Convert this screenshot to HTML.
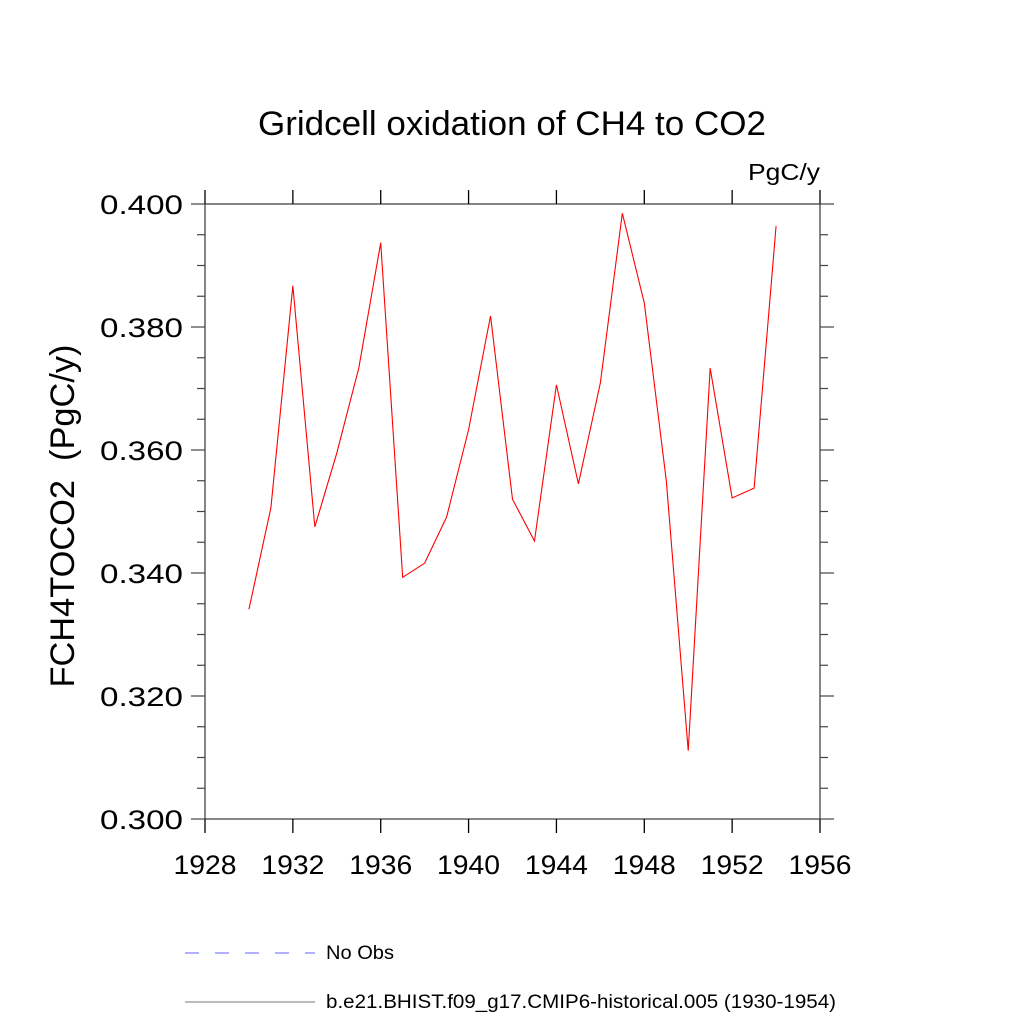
<!DOCTYPE html>
<html><head><meta charset="utf-8"><style>body{margin:0;background:#fff}svg{display:block}text{font-family:"Liberation Sans",sans-serif;fill:#000}</style></head>
<body>
<svg id="chart" width="1024" height="1024" viewBox="0 0 1024 1024" xmlns="http://www.w3.org/2000/svg">
<text x="512" y="135" font-size="34" text-anchor="middle" textLength="508" lengthAdjust="spacingAndGlyphs">Gridcell oxidation of CH4 to CO2</text>
<text x="820" y="180" font-size="23" text-anchor="end" textLength="72" lengthAdjust="spacingAndGlyphs">PgC/y</text>
<text transform="translate(74,516) rotate(-90)" font-size="34" text-anchor="middle" textLength="343" lengthAdjust="spacingAndGlyphs">FCH4TOCO2&#160;&#160;(PgC/y)</text>
<g id="axes"></g>
<g id="series"></g>
<g>
<line x1="185" y1="953" x2="315" y2="953" stroke="#6060ff" stroke-width="1" stroke-dasharray="14,16"/>
<text x="326" y="959" font-size="19" textLength="68" lengthAdjust="spacingAndGlyphs">No Obs</text>
<line x1="185" y1="1002" x2="315" y2="1002" stroke="#777" stroke-width="1"/>
<text x="326" y="1008" font-size="19" textLength="510" lengthAdjust="spacingAndGlyphs">b.e21.BHIST.f09_g17.CMIP6-historical.005 (1930-1954)</text>
</g>
</svg>
<script>
const years = [1930,1931,1932,1933,1934,1935,1936,1937,1938,1939,1940,1941,1942,1943,1944,1945,1946,1947,1948,1949,1950,1951,1952,1953,1954];
const values = [0.3341,0.3506,0.3867,0.3475,0.3595,0.3733,0.3937,0.3393,0.3416,0.3491,0.3633,0.3818,0.3520,0.3452,0.3706,0.3545,0.3709,0.3985,0.3839,0.3551,0.3111,0.3733,0.3522,0.3538,0.3964];
const xTicks = [1928,1932,1936,1940,1944,1948,1952,1956];
const yTicks = [0.300,0.320,0.340,0.360,0.380,0.400];
const yTickLabels = ["0.300","0.320","0.340","0.360","0.380","0.400"];
const X0=205,X1=820,Y0=204,Y1=819;
const xs=v=>X0+(v-1928)/28*(X1-X0);
const ys=v=>Y1-(v-0.3)/0.1*(Y1-Y0);
const NS="http://www.w3.org/2000/svg";
const axes=document.getElementById('axes'), series=document.getElementById('series');
function mk(tag,attrs,parent){const e=document.createElementNS(NS,tag);for(const k in attrs)e.setAttribute(k,attrs[k]);parent.appendChild(e);return e;}
const box=mk('rect',{x:X0,y:Y0,width:X1-X0,height:Y1-Y0,fill:'none',stroke:'#444','stroke-width':1.3},axes);


xTicks.forEach(t=>{const x=xs(t);
 const a=mk('line',{x1:x,y1:Y0,x2:x,y2:Y0-14,stroke:'#000','stroke-width':1.3},axes);
 
 
 const b=mk('line',{x1:x,y1:Y1,x2:x,y2:Y1+14,stroke:'#000','stroke-width':1.3},axes);
 
 
 const tx=mk('text',{x:x,y:Y1+55,'font-size':27,'text-anchor':'middle',textLength:63,lengthAdjust:'spacingAndGlyphs'},axes);tx.textContent=t;
 
 
});
for(let i=0;i<=20;i++){const v=0.3+i*0.005;const y=ys(v);const major=i%4===0;const L=major?14:8;
 const a=mk('line',{x1:X0,y1:y,x2:X0-L,y2:y,stroke:'#444','stroke-width':1.2},axes);
 
 
 const b=mk('line',{x1:X1,y1:y,x2:X1+L,y2:y,stroke:'#444','stroke-width':1.2},axes);
 
 
}
yTicks.forEach((t,i)=>{const tx=mk('text',{x:X0-22,y:ys(t)+10,'font-size':27,'text-anchor':'end',textLength:83,lengthAdjust:'spacingAndGlyphs'},axes);tx.textContent=yTickLabels[i];
 
 
});
const pts=years.map((y,i)=>xs(y)+','+ys(values[i])).join(' ');
const pl=mk('polyline',{points:pts,fill:'none',stroke:'#ff0000','stroke-width':1.1},series);


</script>
</body></html>
